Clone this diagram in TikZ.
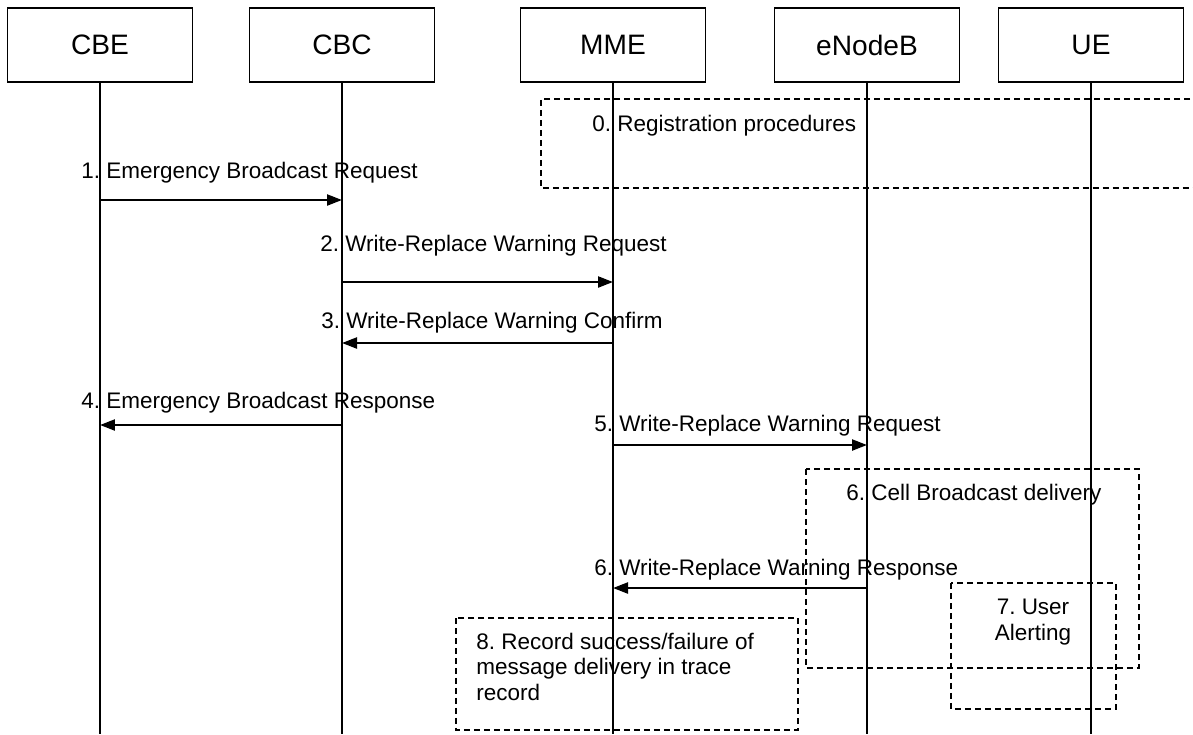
\documentclass[tikz,border=0pt]{standalone}
\usepackage{fontspec}
\setmainfont{Liberation Sans}
\usetikzlibrary{arrows.meta}
\frenchspacing
\tikzset{
  entity/.style={draw, line width=0.6pt, minimum width=3.7cm, minimum height=1.48cm, font=\fontsize{16pt}{18pt}\selectfont},
  lifeline/.style={line width=0.6pt},
  msg/.style={line width=1.3pt, -{Triangle[length=0.3cm,width=0.22cm]}},
  lbl/.style={anchor=base west, inner sep=0pt, font=\fontsize{12.8pt}{14.2pt}\selectfont},
  note/.style={inner sep=0pt, font=\fontsize{12.8pt}{14.4pt}\selectfont},
  phase/.style={line width=0.6pt, dash pattern=on 0.12cm off 0.08cm}
}
\begin{document}
\begin{tikzpicture}[x=0.02cm,y=-0.02cm]
    \useasboundingbox (0,0) rectangle (1193,734);
    \node[entity] (cbe) at (100,45) {CBE};
    \node[entity] (cbc) at (342,45) {CBC};
    \node[entity] (mme) at (613,45) {MME};
    \node[entity] (enb) at (867,45) {eNodeB};
    \node[entity] (ue) at (1091,45) {UE};
    \coordinate (bot) at (0,734);
    \foreach \e in {cbe,cbc,mme,enb,ue}
      \draw[lifeline] (\e.south) -- (\e.south |- bot);
    \draw[phase] (1200,99) -- (541,99) -- (541,188) -- (1200,188);
    \draw[phase] (806,469) rectangle (1139,668);
    \draw[phase] (951,583) rectangle (1116,709);
    \draw[phase] (456,618) rectangle (798,730);
    \coordinate (m1) at (0,200);
    \coordinate (m2) at (0,282);
    \coordinate (m3) at (0,343);
    \coordinate (m4) at (0,425);
    \coordinate (m5) at (0,445);
    \coordinate (m6) at (0,588);
    \draw[msg] (cbe |- m1) -- (cbc |- m1);
    \draw[msg] (cbc |- m2) -- (mme |- m2);
    \draw[msg] (mme |- m3) -- (cbc |- m3);
    \draw[msg] (cbc |- m4) -- (cbe |- m4);
    \draw[msg] (mme |- m5) -- (enb |- m5);
    \draw[msg] (enb |- m6) -- (mme |- m6);
    \node[lbl] (t0) at (592,131) {0. Registration procedures};
    \node[lbl] (t1) at (81,178) {1. Emergency Broadcast Request};
    \node[lbl] (t2) at (320,251) {2. Write-Replace Warning Request};
    \node[lbl] (t3) at (321,328) {3. Write-Replace Warning Confirm};
    \node[lbl] (t4) at (81,408) {4. Emergency Broadcast Response};
    \node[lbl] (t5) at (594,431) {5. Write-Replace Warning Request};
    \node[lbl] (t6) at (846,500) {6. Cell Broadcast delivery};
    \node[lbl] (t6r) at (594,575) {6. Write-Replace Warning Response};
    \node[note, anchor=north, align=center] (t7) at (1033,599) {7. User\\Alerting};
    \node[note, anchor=north west, align=left] (t8) at (476,633) {8. Record success/failure of\\message delivery in trace\\record};
\end{tikzpicture}
\end{document}
